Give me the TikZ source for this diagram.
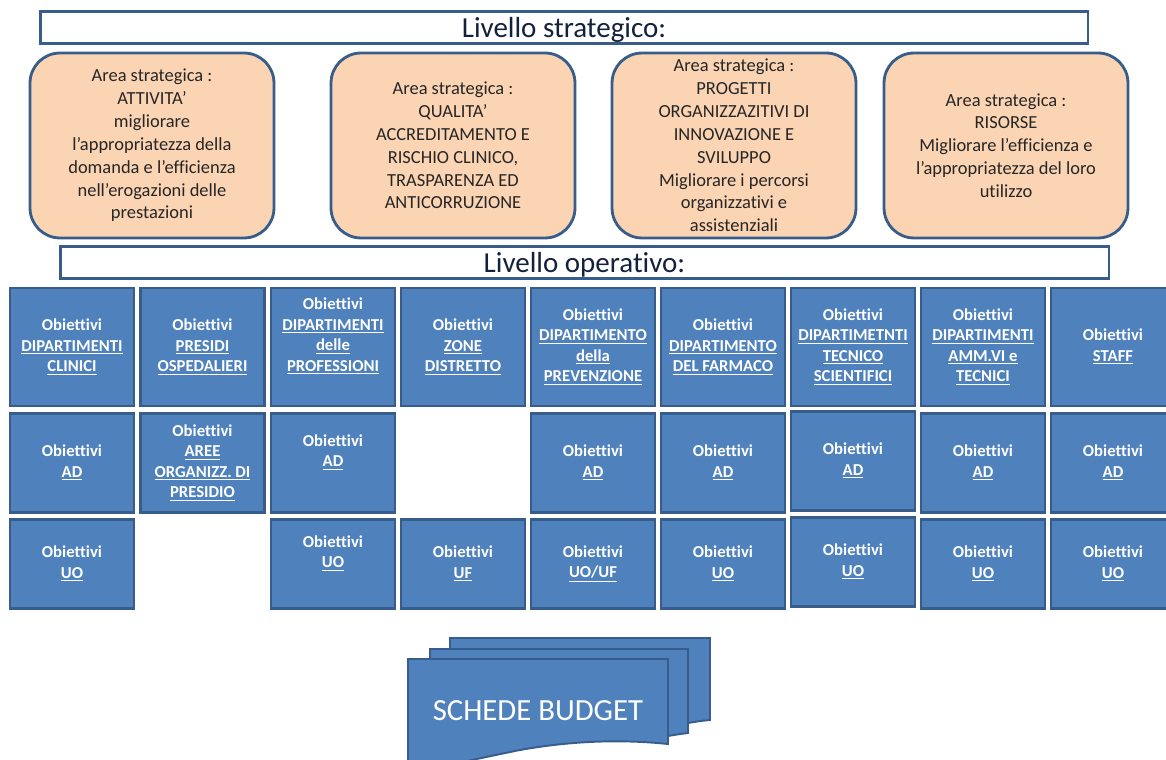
\documentclass[tikz,border=0pt]{standalone}
\usepackage{fontspec}
\setmainfont{Carlito}[Ligatures=NoCommon]
\usetikzlibrary{positioning}
\definecolor{bordo}{HTML}{385D8A}
\definecolor{pesca}{HTML}{FBD4B4}
\definecolor{blu}{HTML}{4F81BD}
\definecolor{titolo}{HTML}{14213D}
\tikzset{
  livello/.style={draw=bordo, line width=1.6pt, fill=white, inner sep=0pt,
    text=titolo, text height=15pt, text depth=3.6pt,
    font=\fontsize{16.5}{18}\selectfont},
  area/.style={draw=bordo, line width=1.6pt, fill=pesca, rounded corners=0.6cm,
    minimum width=4.88cm, minimum height=3.7cm, inner sep=0pt, align=center,
    text=black!85, font=\fontsize{10.5}{13}\selectfont},
  obiettivo/.style={draw=bordo, line width=1.5pt, fill=blu, minimum width=2.48cm,
    inner sep=0pt, align=center, text=white,
    font=\bfseries\fontsize{9.5}{11.6}\selectfont},
  riga1/.style={obiettivo, minimum height=2.36cm},
  riga2/.style={obiettivo, minimum height=1.98cm},
  riga3/.style={obiettivo, minimum height=1.78cm},
  alzato/.style={text depth=14pt},
  foglio/.style={draw=bordo, line width=1.1pt, fill=blu}
}
\newcommand{\ul}[1]{\underline{#1}}
\begin{document}
\begin{tikzpicture}[x=0.02cm, y=-0.02cm]
\clip (0,0) rectangle (1166,760);
% livello strategico
\node[livello, minimum width=20.96cm, minimum height=0.62cm] (strat) at (564,27.5) {Livello strategico:};
\node[area] (att) at (152,145.5) {Area strategica :\\ATTIVITA'\\migliorare\\l'appropriatezza della\\domanda e l'efficienza\\nell'erogazioni delle\\prestazioni};
\node[area] (qual) at (453,145.5) {Area strategica :\\QUALITA'\\ACCREDITAMENTO E\\RISCHIO CLINICO,\\TRASPARENZA ED\\ANTICORRUZIONE};
\node[area] (prog) at (734,145.5) {Area strategica :\\PROGETTI\\ORGANIZZAZITIVI DI\\INNOVAZIONE E\\SVILUPPO\\Migliorare i percorsi\\organizzativi e\\assistenziali};
\node[area] (ris) at (1006,145.5) {Area strategica :\\RISORSE\\Migliorare l'efficienza e\\l'appropriatezza del loro\\utilizzo};
% livello operativo
\node[livello, minimum width=20.98cm, minimum height=0.58cm] (oper) at (584.5,262.5) {Livello operativo:};
%
\node[riga1] (dc) at (72,347) {Obiettivi\\\ul{DIPARTIMENTI}\\\ul{CLINICI}};
\node[riga1] (po) at (202.5,347) {Obiettivi\\\ul{PRESIDI}\\\ul{OSPEDALIERI}};
\node[riga1, alzato] (dp) at (333,347) {Obiettivi\\\ul{DIPARTIMENTI}\\\ul{delle}\\\ul{PROFESSIONI}};
\node[riga1] (zd) at (463,347) {Obiettivi\\\ul{ZONE}\\\ul{DISTRETTO}};
\node[riga1] (pr) at (593,347) {Obiettivi\\\ul{DIPARTIMENTO}\\\ul{della}\\\ul{PREVENZIONE}};
\node[riga1] (fa) at (723,347) {Obiettivi\\\ul{DIPARTIMENTO}\\\ul{DEL FARMACO}};
\node[riga1] (ts) at (853,347) {Obiettivi\\\ul{DIPARTIMETNTI}\\\ul{TECNICO}\\\ul{SCIENTIFICI}};
\node[riga1] (am) at (983,347) {Obiettivi\\\ul{DIPARTIMENTI}\\\ul{AMM.VI e}\\\ul{TECNICI}};
\node[riga1] (st) at (1113,347) {Obiettivi\\\ul{STAFF}};
%
\node[riga2] (dc2) at (72,463) {Obiettivi\\\ul{AD}};
\node[riga2] (po2) at (202.5,463) {Obiettivi\\\ul{AREE}\\\ul{ORGANIZZ. DI}\\\ul{PRESIDIO}};
\node[riga2, alzato] (dp2) at (333,463) {Obiettivi\\\ul{AD}};
\node[riga2] (pr2) at (593,463) {Obiettivi\\\ul{AD}};
\node[riga2] (fa2) at (723,463) {Obiettivi\\\ul{AD}};
\node[riga2] (ts2) at (853,461) {Obiettivi\\\ul{AD}};
\node[riga2] (am2) at (983,463) {Obiettivi\\\ul{AD}};
\node[riga2] (st2) at (1113,463) {Obiettivi\\\ul{AD}};
%
\node[riga3] (dc3) at (72,564) {Obiettivi\\\ul{UO}};
\node[riga3, alzato] (dp3) at (333,564) {Obiettivi\\\ul{UO}};
\node[riga3] (zd3) at (463,564) {Obiettivi\\\ul{UF}};
\node[riga3] (pr3) at (593,564) {Obiettivi\\\ul{UO/UF}};
\node[riga3] (fa3) at (723,564) {Obiettivi\\\ul{UO}};
\node[riga3] (ts3) at (853,562) {Obiettivi\\\ul{UO}};
\node[riga3] (am3) at (983,564) {Obiettivi\\\ul{UO}};
\node[riga3] (st3) at (1113,564) {Obiettivi\\\ul{UO}};
% schede budget
\draw[foglio] (450,665) -- (450,638) -- (710,638) -- (710,720) .. controls (700,721) .. (688,723) -- cycle;
\draw[foglio] (430,680) -- (430,649) -- (688,649) -- (688,733) .. controls (680,734) .. (668,736) -- cycle;
\draw[foglio] (408,659) -- (668,659) -- (668,744) .. controls (620,739) and (570,741) .. (520,750) .. controls (470,760) and (440,768) .. (408,770) -- cycle;
\node[text=white, font=\fontsize{17.5}{20}\selectfont] (sb) at (538,711) {SCHEDE BUDGET};
\end{tikzpicture}
\end{document}
